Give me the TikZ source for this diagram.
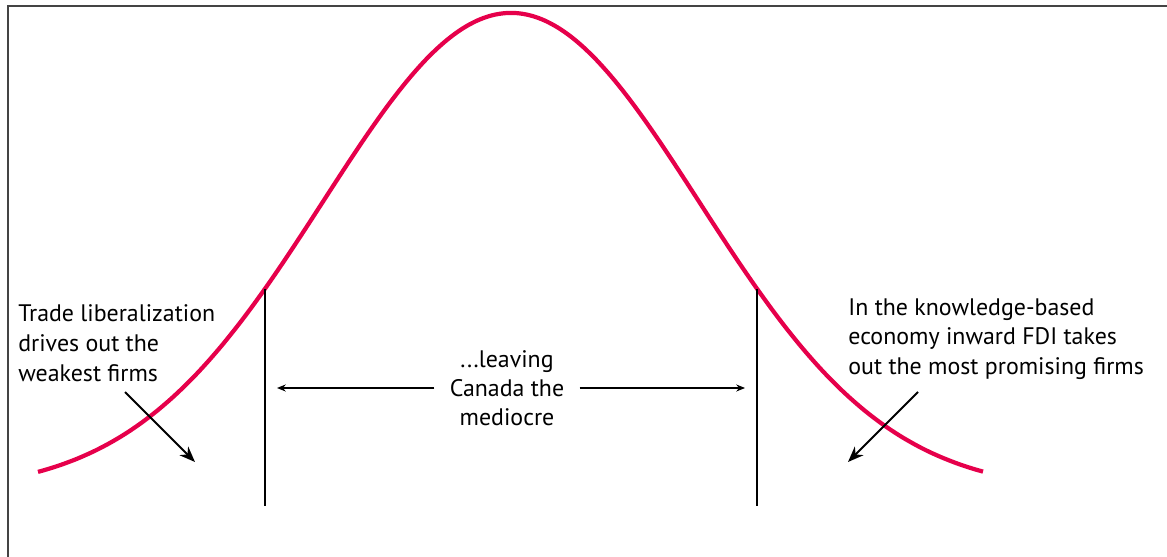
\documentclass[tikz,border=0pt]{standalone}
\usepackage{fontspec}
\setmainfont{PT Sans}
\usetikzlibrary{arrows.meta}
\definecolor{bellred}{RGB}{230,0,75}
\definecolor{framegray}{RGB}{68,68,68}

\begin{document}
\begin{tikzpicture}[
  x=0.02cm, y=-0.02cm,
  declare function={bell(\x)=492-479*exp(-(((\x-511)/100)^2)/7.06);},
  note/.style={font=\fontsize{13.6}{17}\selectfont, align=left, inner sep=0pt, anchor=north west},
  mid/.style={font=\fontsize{13.6}{16.5}\selectfont, align=center, inner sep=0pt},
  curve/.style={draw=bellred, line width=2.4pt},
  cut/.style={line width=1.1pt},
  spread/.style={-{Stealth[length=5pt,width=4pt]}, line width=0.6pt},
  push/.style={-{Stealth[length=9pt,width=7pt]}, line width=1.1pt},
  frame/.style={draw=framegray, line width=0.8pt}
]
\useasboundingbox (0,0) rectangle (1167,557);

% --- Frame (top and left edges) ---
\coordinate (corner) at (8,6);
\coordinate (frameBot) at (8,557);
\coordinate (frameEnd) at (1167,6);
\draw[frame] (frameBot) -- (corner) -- (frameEnd);

% --- Bell curve ---
\draw[curve] plot[domain=38:983, samples=150, smooth] (\x,{bell(\x)});

% --- Cut-off lines ---
\coordinate (cutLtop) at (265,{bell(265)});
\coordinate (cutLbot) at (265,506);
\coordinate (cutRtop) at (757,{bell(757)});
\coordinate (cutRbot) at (757,506);
\draw[cut] (cutLtop) -- (cutLbot);
\draw[cut] (cutRtop) -- (cutRbot);

% --- Labels ---
\node[note] (trade) at (18,304) {Trade liberalization\\drives out the\\weakest firms};
\node[note] (fdi) at (848,298) {In the knowledge-based\\economy inward FDI takes\\out the most promising firms};
\node[mid] (leave) at (507,388) {...leaving\\Canada the\\mediocre};

% --- Middle arrows ---
\coordinate (spreadL) at (277,388);
\coordinate (spreadR) at (745,388);
\draw[spread] (leave.west) ++(-15,0) -- (spreadL);
\draw[spread] (leave.east) ++(15,0) -- (spreadR);

% --- Tail arrows ---
\coordinate (tradeTail) at (125,392);
\coordinate (tradeHead) at (195,462);
\coordinate (fdiTail) at (918,392);
\coordinate (fdiHead) at (848,462);
\draw[push] (tradeTail) -- (tradeHead);
\draw[push] (fdiTail) -- (fdiHead);

\end{tikzpicture}
\end{document}
